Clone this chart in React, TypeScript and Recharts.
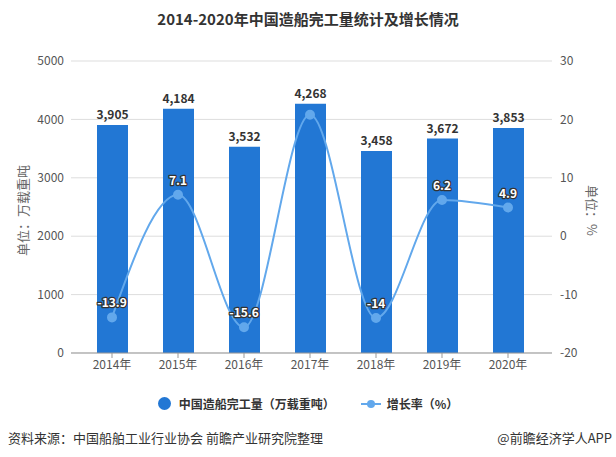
import React from 'react'
import { ComposedChart, Bar, Line, XAxis, YAxis, CartesianGrid, LabelList } from 'recharts'

const years = ['2014年', '2015年', '2016年', '2017年', '2018年', '2019年', '2020年']
const output = [3905, 4184, 3532, 4268, 3458, 3672, 3853]
const growth = [-13.9, 7.1, -15.6, 20.8, -14, 6.2, 4.9]
const growthLabels = ['-13.9', '7.1', '-15.6', '', '-14', '6.2', '4.9']
const leftTicks = [0, 1000, 2000, 3000, 4000, 5000]
const rightTicks = [-20, -10, 0, 10, 20, 30]

const BAR = '#2277d4'
const LINE = '#62a8ec'
const FONT = '"Noto Sans CJK SC", "Microsoft YaHei", sans-serif'

const data = years.map((year, i) => ({
  year,
  output: output[i],
  growth: growth[i],
  growthLabel: growthLabels[i],
}))

function GrowthLabel(props: any) {
  const { x, y, value } = props
  if (!value) return null
  return (
    <text
      x={x}
      y={y - 10}
      textAnchor="middle"
      fontSize={12}
      fontWeight="bold"
      fontFamily={FONT}
      fill="#fff"
      stroke="#333"
      strokeWidth={2.5}
      paintOrder="stroke"
      strokeLinejoin="round"
    >
      {value}
    </text>
  )
}

export default function App() {
  return (
    <div style={{ position: 'absolute', left: 0, top: 0, width: 616, height: 457, background: '#fff', fontFamily: FONT }}>
      <div style={{ position: 'absolute', top: 8, width: 616, textAlign: 'center', fontSize: 15, fontWeight: 'bold', color: '#333' }}>
        2014-2020年中国造船完工量统计及增长情况
      </div>
      <div style={{ position: 'absolute', left: 8, top: 150, width: 28, height: 120, display: 'flex', alignItems: 'center', justifyContent: 'center' }}>
        <div style={{ transform: 'rotate(-90deg)', whiteSpace: 'nowrap', fontSize: 13, color: '#666' }}>单位：万载重吨</div>
      </div>
      <div style={{ position: 'absolute', left: 578, top: 170, width: 28, height: 80, display: 'flex', alignItems: 'center', justifyContent: 'center' }}>
        <div style={{ transform: 'rotate(90deg)', whiteSpace: 'nowrap', fontSize: 13, color: '#666' }}>单位：%</div>
      </div>
      <ComposedChart
        width={616}
        height={457}
        data={data}
        margin={{ top: 61, left: 31, right: 24, bottom: 74 }}
        style={{ position: 'absolute', left: 0, top: 0 }}
      >
        <CartesianGrid vertical={false} stroke="#ddd" yAxisId="left" />
        <XAxis
          dataKey="year"
          padding={{ left: 8, right: 11 }}
          tick={{ fontSize: 12, fill: '#555', fontFamily: FONT }}
          tickLine={{ stroke: '#999' }}
          axisLine={{ stroke: '#999' }}
          tickSize={5}
          height={30}
        />
        <YAxis
          yAxisId="left"
          domain={[0, 5000]}
          ticks={leftTicks}
          width={40}
          tick={{ fontSize: 12, fill: '#555', fontFamily: FONT }}
          tickLine={false}
          axisLine={false}
          tickSize={5}
        />
        <YAxis
          yAxisId="right"
          orientation="right"
          domain={[-20, 30]}
          ticks={rightTicks}
          width={40}
          tick={{ fontSize: 12, fill: '#555', fontFamily: FONT }}
          tickLine={false}
          axisLine={false}
          tickSize={6}
        />
        <Bar yAxisId="left" dataKey="output" fill={BAR} barSize={31} isAnimationActive={false}>
          <LabelList
            dataKey="output"
            position="top"
            offset={6}
            formatter={(v: any) => Number(v).toLocaleString('en-US')}
            style={{ fontSize: 12, fontWeight: 'bold', fill: '#333', fontFamily: FONT }}
          />
        </Bar>
        <Line
          yAxisId="right"
          dataKey="growth"
          type="monotone"
          stroke={LINE}
          strokeWidth={2}
          dot={{ r: 4, fill: LINE, stroke: LINE }}
          isAnimationActive={false}
        >
          <LabelList dataKey="growthLabel" content={GrowthLabel} />
        </Line>
      </ComposedChart>
      <div style={{ position: 'absolute', top: 395, left: 0, width: 616, display: 'flex', justifyContent: 'center', alignItems: 'center', fontSize: 12, fontWeight: 'bold', color: '#333' }}>
        <span style={{ display: 'inline-block', width: 13, height: 13, borderRadius: '50%', background: BAR, marginRight: 8 }} />
        <span style={{ marginRight: 26 }}>中国造船完工量（万载重吨）</span>
        <svg width={20} height={10} style={{ marginRight: 6 }}>
          <line x1={0} y1={5} x2={20} y2={5} stroke={LINE} strokeWidth={2} />
          <circle cx={10} cy={5} r={4} fill={LINE} />
        </svg>
        <span>增长率（%）</span>
      </div>
      <div style={{ position: 'absolute', left: 8, top: 428, fontSize: 13, color: '#333' }}>
        资料来源：中国船舶工业行业协会 前瞻产业研究院整理
      </div>
      <div style={{ position: 'absolute', right: 4, top: 428, fontSize: 13, color: '#333' }}>
        @前瞻经济学人APP
      </div>
    </div>
  )
}
